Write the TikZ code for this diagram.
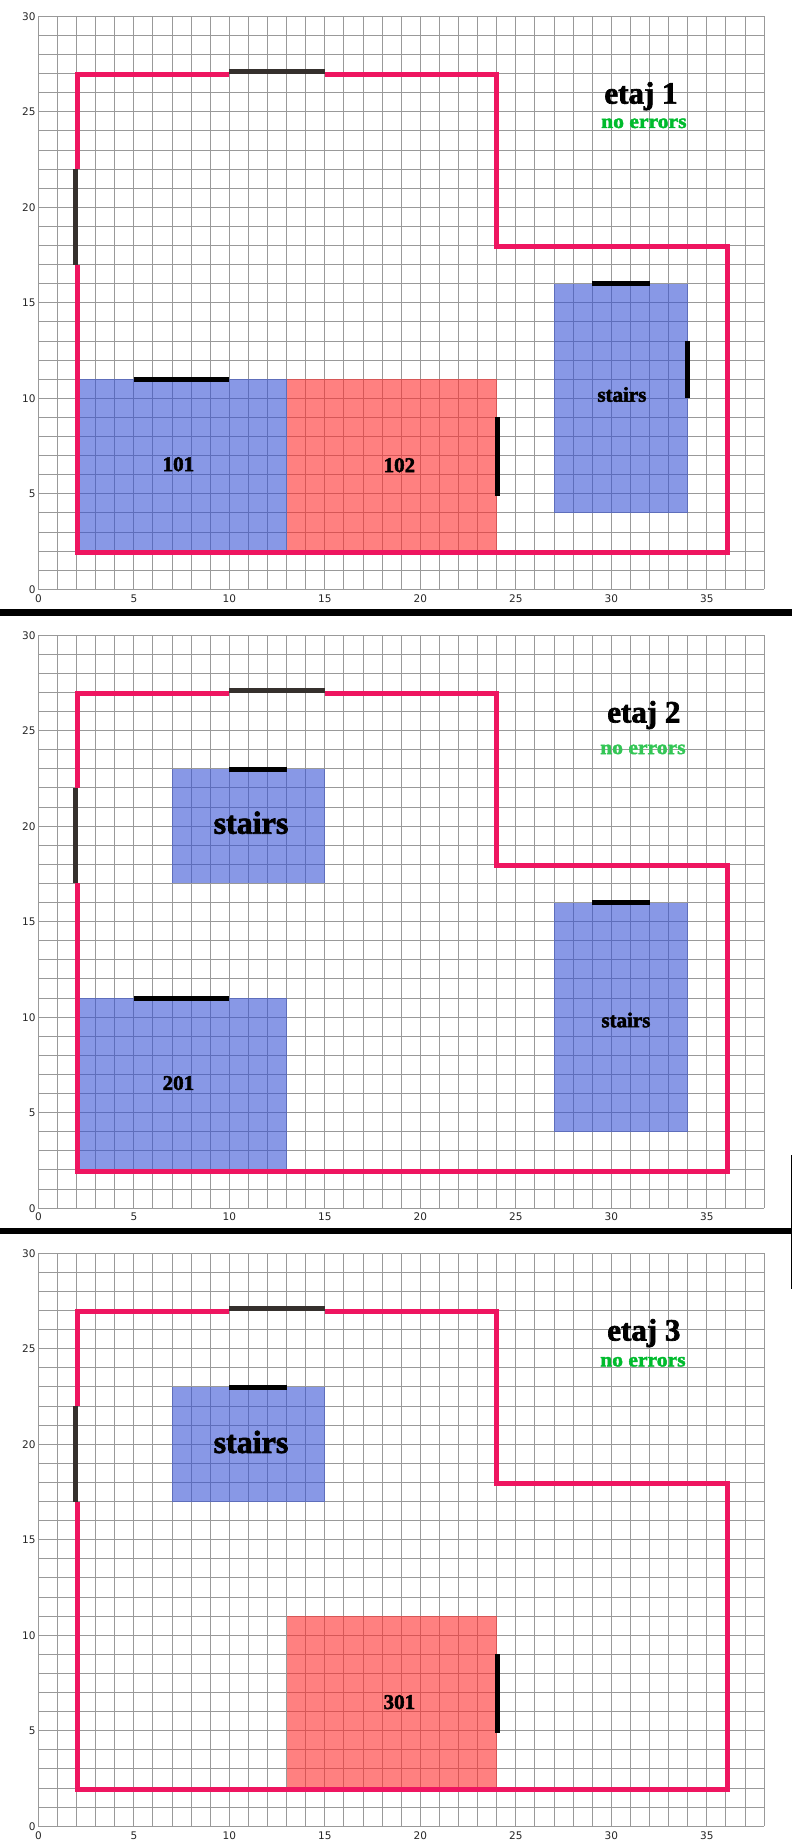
\documentclass[tikz,border=0pt]{standalone}
\usepackage{fontspec}
\usepackage{tikz}
\usepackage{xcolor}
\newfontfamily\ticksfont{DejaVu Sans}
\newfontfamily\labelfont[FakeBold=2.2]{Liberation Serif Bold}
\newfontfamily\statusfont[FakeBold=2.2,FakeStretch=1.08]{Liberation Serif Bold}
\definecolor{wallred}{RGB}{238,21,96}
\definecolor{doorbrown}{RGB}{53,48,45}
\definecolor{roomblue}{RGB}{53,80,212}
\definecolor{roomred}{RGB}{255,43,43}
\definecolor{okgreen}{RGB}{0,187,45}
\definecolor{okpale}{RGB}{51,198,85}
\tikzset{
    wall/.style={draw=wallred, line width=5pt},
    outerdoor/.style={draw=doorbrown, line width=5pt},
    door/.style={draw=black, line width=5pt},
    bluezone/.style={fill=roomblue, fill opacity=.59},
    redzone/.style={fill=roomred, fill opacity=.6},
    roomlabel/.style={font=\labelfont\fontsize{21}{21}\selectfont, inner sep=0pt},
    biglabel/.style={font=\labelfont\fontsize{32}{32}\selectfont, inner sep=0pt},
    floorlabel/.style={font=\labelfont\fontsize{31}{31}\selectfont, inner sep=0pt},
    statuslabel/.style={font=\statusfont\fontsize{20}{20}\selectfont, inner sep=0pt},
    ticklabel/.style={font=\ticksfont\fontsize{10.5}{10.5}\selectfont, inner sep=0pt, text=black!85}
}
% one empty plan: grid, numbers, walls and the two outer doors
\newcommand{\plangrid}{
    \draw[black!40, line width=1pt, step=1] (0,0) grid (38,30);
    \foreach \tx in {0,5,...,35} \node[ticklabel] (tx\tx) at (\tx,-0.47) {\tx};
    \foreach \ty in {0,5,...,30} \node[ticklabel, anchor=east] (ty\ty) at (-0.14,\ty) {\ty};
}
\newcommand{\planwalls}{
    \draw[wall] (10,26.94) -- (2.07,26.94) -- (2.07,22);
    \draw[wall] (2.07,17) -- (2.07,1.92) -- (36.08,1.92) -- (36.08,17.94) -- (24,17.94) -- (24,26.94) -- (15,26.94);
    \draw[outerdoor] (10,27.12) -- (15,27.12);
    \draw[outerdoor] (1.93,22) -- (1.93,17);
}
\begin{document}
\begin{tikzpicture}[x=19.1pt, y=19.1pt]
    \useasboundingbox (0,0) rectangle (41.466,96.597);
    \fill[black] (0,64.35) rectangle (41.466,64.7);
    \fill[black] (0,31.99) rectangle (41.466,32.3);
    \fill[black] (41.4,29.1) rectangle (41.466,36.1);
    % etaj 1
    \begin{scope}[shift={(2.01,65.74)}]
        \plangrid
        \path[bluezone] (2,2) rectangle (13,11);
        \path[redzone] (13,2) rectangle (24,11);
        \path[bluezone] (27,4) rectangle (34,16);
        \planwalls
        \draw[door] (5,11) -- (10,11);
        \draw[door] (24.05,9) -- (24.05,4.9);
        \draw[door] (29,16) -- (32,16);
        \draw[door] (34,13) -- (34,10);
        \node[roomlabel] (room101) at (7.33,6.55) {101};
        \node[roomlabel] (room102) at (18.9,6.5) {102};
        \node[roomlabel] (stairsA) at (30.55,10.2) {stairs};
        \node[floorlabel] (etaj1) at (31.55,25.82) {etaj 1};
        \node[statuslabel, text=okgreen] (status1) at (31.7,24.4) {no errors};
    \end{scope}
    % etaj 2
    \begin{scope}[shift={(2.01,33.34)}]
        \plangrid
        \path[bluezone] (2,2) rectangle (13,11);
        \path[bluezone] (7,17) rectangle (15,23);
        \path[bluezone] (27,4) rectangle (34,16);
        \planwalls
        \draw[door] (5,11) -- (10,11);
        \draw[door] (10,22.95) -- (13,22.95);
        \draw[door] (29,16) -- (32,16);
        \node[roomlabel] (room201) at (7.33,6.55) {201};
        \node[biglabel] (stairsB) at (11.13,20.18) {stairs};
        \node[roomlabel] (stairsC) at (30.76,9.85) {stairs};
        \node[floorlabel] (etaj2) at (31.7,25.82) {etaj 2};
        \node[statuslabel, text=okpale] (status2) at (31.65,24.02) {no errors};
    \end{scope}
    % etaj 3
    \begin{scope}[shift={(2.01,0.98)}]
        \plangrid
        \path[redzone] (13,2) rectangle (24,11);
        \path[bluezone] (7,17) rectangle (15,23);
        \planwalls
        \draw[door] (24.05,9) -- (24.05,4.9);
        \draw[door] (10,22.95) -- (13,22.95);
        \node[roomlabel] (room301) at (18.9,6.5) {301};
        \node[biglabel] (stairsD) at (11.13,20.12) {stairs};
        \node[floorlabel] (etaj3) at (31.7,25.82) {etaj 3};
        \node[statuslabel, text=okgreen] (status3) at (31.65,24.32) {no errors};
    \end{scope}
\end{tikzpicture}
\end{document}
